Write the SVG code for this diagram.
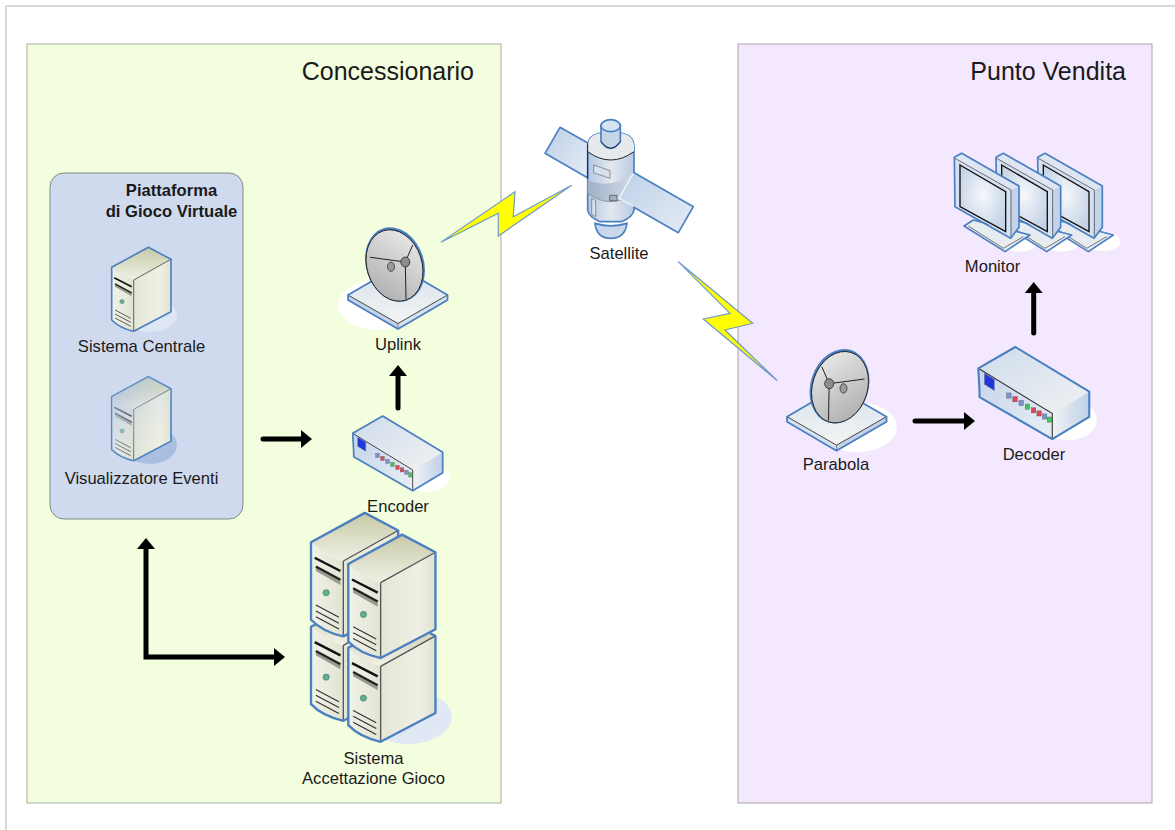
<svg xmlns="http://www.w3.org/2000/svg" xmlns:xlink="http://www.w3.org/1999/xlink" width="1175" height="830" viewBox="0 0 1175 830">
<style>
text{font-family:"Liberation Sans",Arial,sans-serif;fill:#1a1a1a}
.lbl{font-size:16.600px;text-anchor:middle}
.ttl{font-size:25px;text-anchor:end}
.hd{font-size:16.600px;font-weight:bold;text-anchor:middle}
.edge{stroke:#4a7fc1;stroke-linejoin:round;fill:none}
.ink{stroke:#222;fill:none}
.arr{stroke:#000;stroke-width:5;fill:none;stroke-linecap:round;stroke-linejoin:miter}
.bolt{fill:#ffff00;stroke:#6f9bc9;stroke-width:1.2;stroke-linejoin:miter}
</style>
<defs>
<linearGradient id="srvTop" x1="0" y1="0" x2="0" y2="1"><stop offset="0" stop-color="#c6c9a6"/><stop offset="1" stop-color="#f1f1e6"/></linearGradient>
<linearGradient id="srvFront" x1="0" y1="0" x2="1" y2="0"><stop offset="0" stop-color="#f1f2e8"/><stop offset="1" stop-color="#e2e4d2"/></linearGradient>
<linearGradient id="srvSide" x1="0" y1="0" x2="1" y2="0"><stop offset="0" stop-color="#e4e6d5"/><stop offset=".7" stop-color="#eff0e4"/><stop offset="1" stop-color="#dfe2cf"/></linearGradient>
<linearGradient id="haze" x1="0" y1="0" x2="1" y2="1"><stop offset="0" stop-color="#a9bedd" stop-opacity=".9"/><stop offset=".55" stop-color="#c6d4e8" stop-opacity=".25"/><stop offset=".8" stop-color="#c6d4e8" stop-opacity="0"/></linearGradient>
<linearGradient id="dish" x1="0" y1="1" x2="1" y2="0"><stop offset="0" stop-color="#a8a8a8"/><stop offset="1" stop-color="#efefef"/></linearGradient>
<linearGradient id="plate" x1="0" y1="0" x2="0" y2="1"><stop offset="0" stop-color="#d6e2ee"/><stop offset="1" stop-color="#f2f4f2"/></linearGradient>
<linearGradient id="boxTop" x1="0" y1="0" x2="1" y2="1"><stop offset="0" stop-color="#cfdcec"/><stop offset="1" stop-color="#f0f2f2"/></linearGradient>
<linearGradient id="boxFront" x1="0" y1="0" x2="1" y2="1"><stop offset="0" stop-color="#c5d4ea"/><stop offset="1" stop-color="#e8eef6"/></linearGradient>
<linearGradient id="boxSide" x1="0" y1="0" x2="1" y2="0"><stop offset="0" stop-color="#f0f3f6"/><stop offset="1" stop-color="#bfd0e6"/></linearGradient>
<radialGradient id="screen" cx=".5" cy=".45" r=".6"><stop offset="0" stop-color="#f6f8fb"/><stop offset="1" stop-color="#c3d2e6"/></radialGradient>
<linearGradient id="panel" x1="0" y1="0" x2="1" y2="1"><stop offset="0" stop-color="#bdd0e8"/><stop offset="1" stop-color="#e6ecf5"/></linearGradient>
<linearGradient id="body" x1="0" y1="0" x2="1" y2="0"><stop offset="0" stop-color="#b4c8e2"/><stop offset=".5" stop-color="#e2e8f0"/><stop offset="1" stop-color="#b9cbe3"/></linearGradient>
<linearGradient id="band" x1="0" y1="0" x2="1" y2="0"><stop offset="0" stop-color="#9fb0c8"/><stop offset="1" stop-color="#d4dce8"/></linearGradient>
<marker id="head" markerUnits="userSpaceOnUse" markerWidth="11" markerHeight="18" viewBox="0 0 11 18" refX="0" refY="9" orient="auto-start-reverse"><path d="M0 0L11 9L0 18Z" fill="#000"/></marker>

<g id="server">
<path d="M0 0L36.6-20L59.3-8L22 12.7Q9 9 0 0Z" fill="url(#srvTop)"/>
<path d="M0 0Q9 9 22 12.7V64Q8 61 0 52.7Z" fill="url(#srvFront)"/>
<path d="M22 12.7L59.3-8V44.4L22 64Z" fill="url(#srvSide)"/>
<path d="M22 12.7L59.3-8M22 12.7V64" stroke="#555" stroke-width=".9" fill="none"/>
<path d="M0 0L36.6-20L59.3-8V44.4L22 64Q8 61 0 52.7Z" class="edge" stroke-width="1.6"/>
<path d="M2.5 10.500L20 19.500" stroke="#111" stroke-width="1.600" fill="none"/>
<path d="M3.3 16.500L20 25.500V29L3.3 19.500Z" fill="#9a9a90"/>
<path d="M3.3 16.500L20 25.500" stroke="#222" stroke-width="1.500" fill="none"/>
<circle cx="10.3" cy="34.3" r="2.1" fill="#5fb08e" stroke="#4a7f78" stroke-width=".5"/>
<path d="M3.3 42.7L19 51M3.3 46.7L19 55M3.3 50.7L19 59" stroke="#333" stroke-width=".8" fill="none"/>
</g>

<g id="dishUnit">
<path d="M-50 0L0-29L49.5 0L0 28.5Z" fill="url(#plate)"/>
<path d="M-50 0V5L0 34V28.5Z" fill="#c3d3ea"/>
<path d="M49.5 0V5L0 34V28.5Z" fill="#d7e2f0"/>
<path d="M-50 0L0 28.5L49.5 0" stroke="#333" stroke-width=".9" fill="none"/>
<path d="M0 28.5V34" stroke="#555" stroke-width=".7"/>
<path d="M-50 0L0-29L49.5 0V5L0 34L-50 5Z" class="edge" stroke-width="1.8"/>
<ellipse cx="-3" cy="-30.500" rx="29" ry="38" transform="rotate(-18 -3 -30.500)" fill="#4a7fc1"/>
<ellipse cx="-3.500" cy="-29.500" rx="27.500" ry="36.500" transform="rotate(-18 -3.500 -29.500)" fill="url(#dish)" stroke="#222" stroke-width=".9"/>
<path d="M-28-37.7L7.3-33M14.7-50L7.3-33M8 4L7.3-33" class="ink" stroke-width="1"/>
<ellipse cx="-7" cy="-28.3" rx="3.5" ry="4.7" fill="#9a9a9a" stroke="#333" stroke-width=".8"/>
<ellipse cx="7.3" cy="-33" rx="4.5" ry="5" fill="#8d8d8d" stroke="#333" stroke-width=".9"/>
</g>

<g id="box">
<path d="M0 0L30-17.3L90 19L60 36.7Z" fill="url(#boxTop)"/>
<path d="M0 0L60 36.7V57.4L1 23.4V19Z" fill="url(#boxFront)"/>
<path d="M60 36.7L90 19V39.4L60 57.4Z" fill="url(#boxSide)"/>
<path d="M0 0L60 36.7V57.4" stroke="#333" stroke-width=".9" fill="none"/>
<path d="M0 0L30-17.3L90 19V39.4L60 57.4L1 23.4V19Z" class="edge" stroke-width="1.7"/>
<path d="M5 4L13 9V18L5 13Z" fill="#2038d8" stroke="#5a6a9a" stroke-width=".4"/>
<g stroke="#555" stroke-width=".3">
<rect x="23" y="20" width="3.600" height="4.200" fill="#7f92c8"/>
<rect x="28" y="23" width="3.600" height="4.200" fill="#d84a5a"/>
<rect x="33" y="26" width="3.600" height="4.200" fill="#7f92c8"/>
<rect x="38" y="29" width="3.600" height="4.200" fill="#3fc85a"/>
<rect x="43" y="32" width="3.600" height="4.200" fill="#d84a5a"/>
<rect x="47.5" y="34.500" width="3.600" height="4.200" fill="#d84a5a"/>
<rect x="52" y="37" width="3.600" height="4.200" fill="#7f92c8"/>
<rect x="56" y="39.500" width="3.600" height="4.200" fill="#3fc85a"/>
</g>
</g>

<g id="monitor">
<path d="M72 258L100 240L270 285L195 335Z" fill="#e6ecf0" stroke="#4a7fc1" stroke-width="5" stroke-linejoin="round"/>
<path d="M85 258L190 325" stroke="#333" stroke-width="2"/>
<path d="M190 325L250 290" stroke="#333" stroke-width="2"/>
<path d="M45 55L65 40L237 138L213 150Z" fill="#dde6f2"/>
<path d="M213 150L237 138V262L212 292Z" fill="#c3d4ea"/>
<path d="M45 55L213 150L212 292L45 195Z" fill="#d5e1f0"/>
<path d="M45 55L213 150V292" stroke="#333" stroke-width="2" fill="none"/>
<path d="M60 75L197 155V275L60 200Z" fill="url(#screen)" stroke="#111" stroke-width="4"/>
<path d="M43 52L65 40L237 138V262L212 295L45 200Z" class="edge" stroke-width="5"/>
</g>
</defs>

<rect width="1175" height="830" fill="#fff"/>
<path d="M1175 6H6V830" fill="none" stroke="#b5b5b5" stroke-width="1"/>

<g id="concessionario">
<rect x="27" y="44" width="474" height="759" fill="#f3fedf" stroke="#a9ada6" stroke-width="1"/>
<text class="ttl" x="474" y="80">Concessionario</text>
</g>
<g id="punto-vendita">
<rect x="738" y="44" width="414" height="759" fill="#f3e8fd" stroke="#a6a4ad" stroke-width="1"/>
<text class="ttl" x="1126" y="80">Punto Vendita</text>
</g>

<g id="piattaforma">
<rect x="50" y="173" width="193" height="346" rx="14" fill="#cfdaee" stroke="#7f8a80" stroke-width="1"/>
<text class="hd" x="171.500" y="196">Piattaforma</text>
<text class="hd" x="171.500" y="217">di Gioco Virtuale</text>
</g>

<g id="sistema-centrale">
<ellipse cx="150" cy="315" rx="27" ry="17" fill="#dfe6f3"/>
<use href="#server" xlink:href="#server" transform="translate(111.700 267.300)"/>
<text class="lbl" x="141.500" y="352">Sistema Centrale</text>
</g>

<g id="visualizzatore-eventi">
<ellipse cx="150" cy="445" rx="27" ry="19" fill="#a9bfe0"/>
<use href="#server" xlink:href="#server" transform="translate(111.700 396.700)"/>
<path d="M111.700 396.700L148.300 376.700L171 388.700V441L133.700 461Q120 458 111.700 449.400Z" fill="url(#haze)"/>
<text class="lbl" x="141.500" y="484">Visualizzatore Eventi</text>
</g>

<g id="uplink">
<ellipse cx="378" cy="305" rx="40" ry="25" fill="#fff"/>
<use href="#dishUnit" xlink:href="#dishUnit" transform="translate(398 295)"/>
<text class="lbl" x="398" y="350">Uplink</text>
</g>

<g id="encoder">
<ellipse cx="425" cy="478" rx="25" ry="14" fill="#fff"/>
<use href="#box" xlink:href="#box" transform="translate(352.700 433.300)"/>
<text class="lbl" x="398" y="512">Encoder</text>
</g>

<g id="sistema-accettazione">
<ellipse cx="408" cy="717" rx="44" ry="27" fill="#e0e7f5"/>
<use href="#server" xlink:href="#server" transform="translate(311 626.700) scale(1.47)"/>
<use href="#server" xlink:href="#server" transform="translate(311 542.300) scale(1.47)"/>
<use href="#server" xlink:href="#server" transform="translate(348.300 647.700) scale(1.47)"/>
<use href="#server" xlink:href="#server" transform="translate(348.300 564) scale(1.47)"/>
<text class="lbl" x="373.500" y="764">Sistema</text>
<text class="lbl" x="373.500" y="784">Accettazione Gioco</text>
</g>

<g id="satellite" transform="translate(435 110) scale(.33333)">
<path d="M375 52L330 130L460 205V100Z" fill="url(#panel)" stroke="#4a7fc1" stroke-width="5" stroke-linejoin="round"/>
<path d="M458 110Q460 72 500 70H555Q595 72 597 110V300Q595 320 560 335H495Q460 320 458 300Z" fill="url(#body)" stroke="#4a7fc1" stroke-width="5"/>
<path d="M480 340Q485 385 527 385Q570 385 576 340Q527 355 480 340Z" fill="#c9d8ec" stroke="#4a7fc1" stroke-width="5"/>
<path d="M458 125Q527 175 597 125V110Q595 72 555 70H500Q460 72 458 110Z" fill="#e6eaec"/>
<path d="M458 125Q527 175 597 125" fill="none" stroke="#222" stroke-width="3"/>
<path d="M458 210Q527 240 597 190V250Q527 300 458 250Z" fill="url(#band)"/>
<path d="M458 250Q527 300 595 250" fill="none" stroke="#777" stroke-width="2"/>
<path d="M458 100V205" stroke="#222" stroke-width="3"/>
<path d="M476 165L525 182V205L476 188Z" fill="#d8e0ea" stroke="#667" stroke-width="2"/>
<path d="M470 265L482 272V320L470 313Z" fill="#d8e0ea" stroke="#667" stroke-width="2"/>
<path d="M524 256H546V272H524Z" fill="#a4afbf" stroke="#445" stroke-width="2"/>
<path d="M498 45V95Q527 135 556 95V45Z" fill="#c5d6ea" stroke="#4a7fc1" stroke-width="5"/>
<path d="M498 95Q527 135 556 95" fill="none" stroke="#222" stroke-width="2.500"/>
<ellipse cx="527" cy="47" rx="29" ry="18" fill="#d5e2f2" stroke="#4a7fc1" stroke-width="5"/>
<path d="M595 187L775 290L730 368L552 265Z" fill="url(#panel)"/>
<path d="M595 187L775 290L730 368L595 291" fill="none" stroke="#4a7fc1" stroke-width="5" stroke-linejoin="round"/>
<path d="M595 190L552 265L595 288" fill="none" stroke="#f4f6fa" stroke-width="4"/>
</g>
<g id="satellite-label"><text class="lbl" x="619" y="259">Satellite</text></g>

<g id="parabola">
<ellipse cx="857" cy="427" rx="40" ry="25" fill="#fff"/>
<use href="#dishUnit" xlink:href="#dishUnit" transform="translate(836.500 416.700) scale(-1 1)"/>
<text class="lbl" x="836" y="470">Parabola</text>
</g>

<g id="decoder">
<ellipse cx="1068" cy="420" rx="29" ry="20" fill="#fff"/>
<use href="#box" xlink:href="#box" transform="translate(978.300 368.300) scale(1.233)"/>
<text class="lbl" x="1034" y="460">Decoder</text>
</g>

<g id="monitors">
<g transform="translate(940 140) scale(.33333)">
<ellipse cx="490" cy="305" rx="52" ry="28" fill="#fff"/>
<ellipse cx="365" cy="310" rx="50" ry="25" fill="#fff"/>
<ellipse cx="240" cy="310" rx="50" ry="25" fill="#fff"/>
<use href="#monitor" xlink:href="#monitor" x="250"/>
<use href="#monitor" xlink:href="#monitor" x="125"/>
<use href="#monitor" xlink:href="#monitor"/>
</g>
<text class="lbl" x="992.500" y="272">Monitor</text>
</g>

<g id="connectors">
<polygon class="bolt" points="441,242.300 515,191.700 513.300,216.700 571.700,185.300 498.300,236 498.300,213.300"/>
<polygon class="bolt" points="678.300,261.700 752.700,323.300 725,330 777.300,380.700 703.300,319 730,313.300"/>
<path class="arr" d="M263 439H301" marker-end="url(#head)"/>
<path class="arr" d="M398 408V376" marker-end="url(#head)"/>
<path class="arr" d="M146 549V657H274" marker-start="url(#head)" marker-end="url(#head)"/>
<path class="arr" d="M915 421H964" marker-end="url(#head)"/>
<path class="arr" d="M1033.700 333V293" marker-end="url(#head)"/>
</g>
</svg>
